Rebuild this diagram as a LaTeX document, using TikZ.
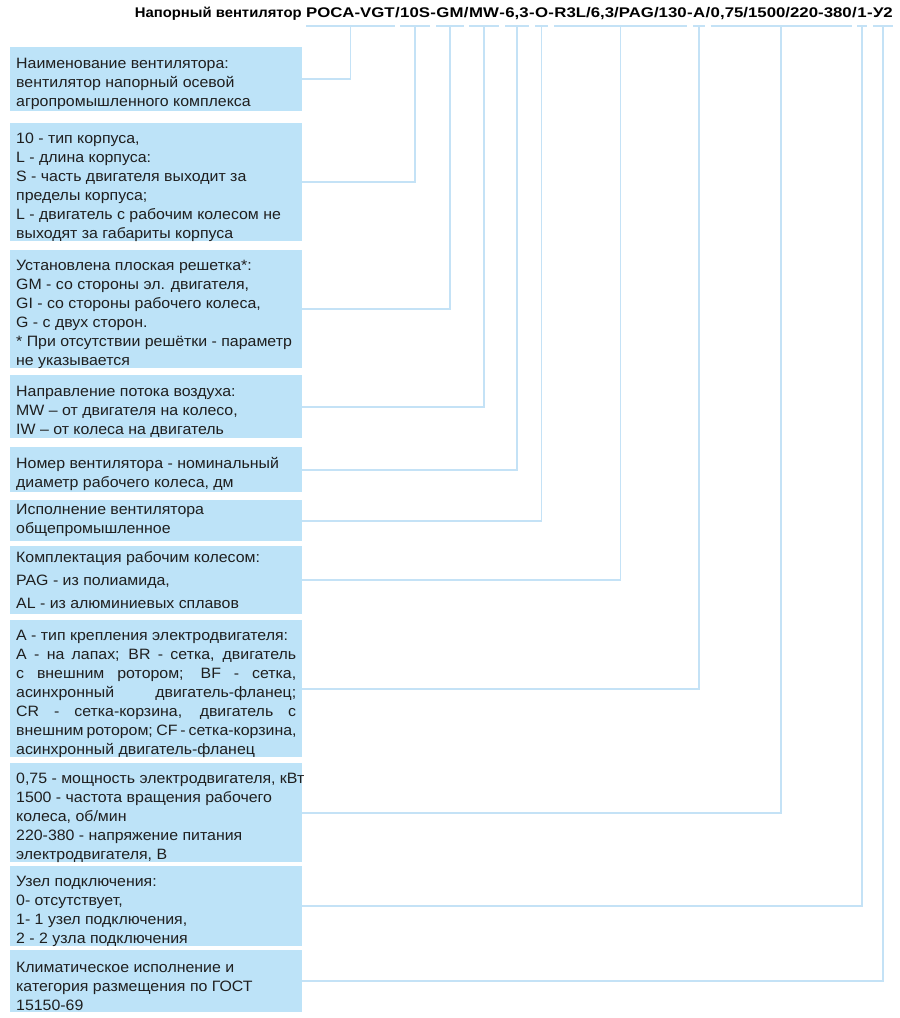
\documentclass[tikz,border=0pt]{standalone}
\usepackage{fontspec}
\setmainfont{Liberation Sans}[FakeStretch=1.06]
\newfontfamily\titlefont{Liberation Sans}[FakeStretch=1.2]
\newfontfamily\namefont{Liberation Sans}[FakeStretch=1.06]
\usetikzlibrary{positioning}

\definecolor{boxblue}{RGB}{189,227,248}
\definecolor{lineblue}{RGB}{196,226,246}

\newcommand{\jline}[1]{\makebox[\hsize][s]{#1}}
\newcommand{\topstrut}{\rule{0pt}{20pt}}

\tikzset{
  descbox/.style={fill=boxblue, anchor=north west, text width=280pt,
    inner xsep=6pt, inner ysep=0pt, align=flush left, text=black!88,
    font=\fontsize{15}{19}\selectfont},
  code/.style={inner sep=0pt, anchor=base east,
    font=\titlefont\bfseries\fontsize{14}{17}\selectfont},
  link/.style={draw=lineblue, line width=1.6pt},
}

\begin{document}
\begin{tikzpicture}[x=1pt, y=-1pt]
  \useasboundingbox (0,0) rectangle (900,1018);

  % designation, built from its right end
  \node[code] (c11) at (893,17) {У2};
  \node[code] (s10) at (c11.base west) {-};
  \node[code] (c10) at (s10.base west) {1};
  \node[code] (s9) at (c10.base west) {/};
  \node[code] (c9) at (s9.base west) {0,75/1500/220-380};
  \node[code] (s8) at (c9.base west) {/};
  \node[code] (c8) at (s8.base west) {A};
  \node[code] (s7) at (c8.base west) {-};
  \node[code] (c7) at (s7.base west) {R3L/6,3/PAG/130};
  \node[code] (s6) at (c7.base west) {-};
  \node[code] (c6) at (s6.base west) {O};
  \node[code] (s5) at (c6.base west) {-};
  \node[code] (c5) at (s5.base west) {6,3};
  \node[code] (s4) at (c5.base west) {-};
  \node[code] (c4) at (s4.base west) {MW};
  \node[code] (s3) at (c4.base west) {/};
  \node[code] (c3) at (s3.base west) {GM};
  \node[code] (s2) at (c3.base west) {-};
  \node[code] (c2) at (s2.base west) {10S};
  \node[code] (s1) at (c2.base west) {/};
  \node[code] (c1) at (s1.base west) {POCA-VGT};
  \node[code, font=\namefont\bfseries\fontsize{14}{17}\selectfont] (title)
    at ([xshift=-4pt]c1.base west) {Напорный вентилятор};

  % description boxes
  \node[descbox, minimum height=64pt] (b1) at (10,47)
    {\topstrut Наименование вентилятора:\\вентилятор напорный осевой\\агропромышленного комплекса};
  \node[descbox, minimum height=118pt] (b2) at (10,123)
    {\topstrut 10 - тип корпуса,\\L - длина корпуса:\\S - часть двигателя выходит за\\пределы корпуса;\\\mbox{L - двигатель с рабочим колесом не}\\выходят за габариты корпуса};
  \node[descbox, minimum height=116pt] (b3) at (10,250)
    {\topstrut Установлена плоская решетка*:\\GM - со стороны эл. двигателя,\\GI - со стороны рабочего колеса,\\G - с двух сторон.\\\mbox{* При отсутствии решётки - параметр}\\не указывается};
  \node[descbox, minimum height=63pt] (b4) at (10,375)
    {\topstrut Направление потока воздуха:\\MW – от двигателя на колесо,\\IW – от колеса на двигатель};
  \node[descbox, minimum height=45pt] (b5) at (10,447)
    {\topstrut\mbox{Номер вентилятора - номинальный}\\диаметр рабочего колеса, дм};
  \node[descbox, minimum height=41pt] (b6) at (10,500)
    {Исполнение вентилятора\\общепромышленное};
  \node[descbox, minimum height=68pt, font=\fontsize{15}{23}\selectfont] (b7) at (10,546)
    {Комплектация рабочим колесом:\\PAG - из полиамида,\\AL - из алюминиевых сплавов};
  \node[descbox, minimum height=136pt] (b8) at (10,620)
    {\topstrut\mbox{А - тип крепления электродвигателя:}\\
     \jline{А - на лапах; BR - сетка, двигатель}\\
     \jline{с внешним ротором; BF - сетка,}\\
     \jline{асинхронный двигатель-фланец;}\\
     \jline{CR - сетка-корзина, двигатель с}\\
     \jline{внешним ротором; CF - сетка-корзина,}\\
     асинхронный двигатель-фланец};
  \node[descbox, minimum height=97pt] (b9) at (10,763)
    {\topstrut\mbox{0,75 - мощность электродвигателя, кВт}\\1500 - частота вращения рабочего\\колеса, об/мин\\220-380 - напряжение питания\\электродвигателя, В};
  \node[descbox, minimum height=79pt] (b10) at (10,866)
    {\topstrut Узел подключения:\\0- отсутствует,\\1- 1 узел подключения,\\2 - 2 узла подключения};
  \node[descbox, minimum height=62pt] (b11) at (10,950)
    {\topstrut Климатическое исполнение и\\категория размещения по ГОСТ\\15150-69};

  % underlines and leaders
  \foreach \i in {1,...,11} {
    \coordinate (u\i) at (c\i.center |- 0,26);
    \draw[link] (c\i.west |- 0,26) -- (c\i.east |- 0,26);
    \draw[link] (b\i.east) -| (u\i);
  }
\end{tikzpicture}
\end{document}
